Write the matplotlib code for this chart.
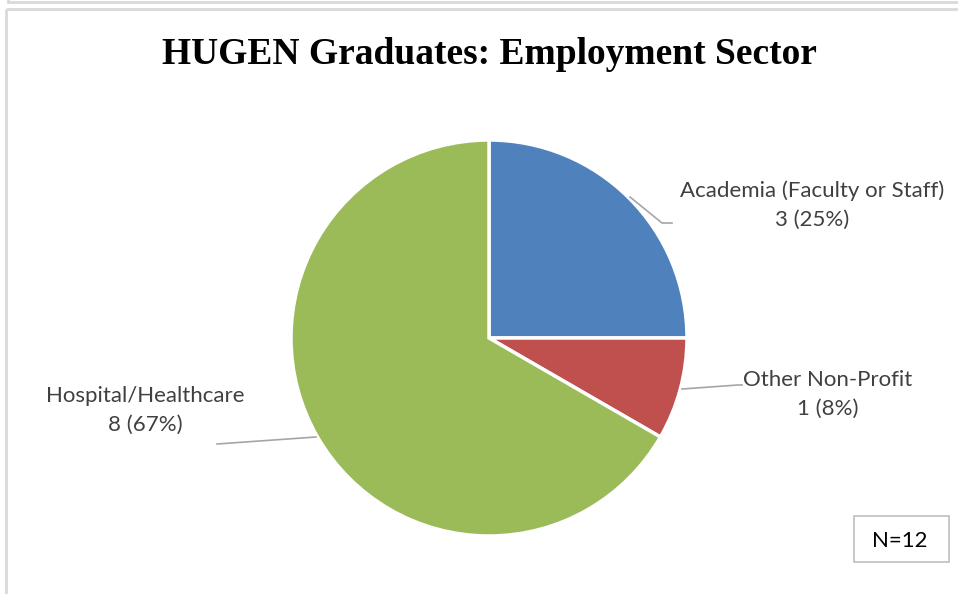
import matplotlib.pyplot as plt
from matplotlib.patches import Rectangle

# data
sectors = ["Academia (Faculty or Staff)", "Other Non-Profit", "Hospital/Healthcare"]
counts = [3, 1, 8]
colors = ["#4F81BD", "#C0504D", "#9BBB59"]
total = sum(counts)

W, H = 958, 594
fig = plt.figure(figsize=(W / 100, H / 100), dpi=100)
ax = fig.add_axes([0, 0, 1, 1])


def iy(y):
    # image y (from top) -> data y
    return H - y


# frames around the chart area
ax.plot([8.5, W], [iy(2), iy(2)], color='#D9D9D9', lw=2, solid_capstyle='butt')
ax.plot([8.5, 8.5], [iy(0), iy(2)], color='#D9D9D9', lw=2)
ax.plot([6.5, W], [iy(8.5), iy(8.5)], color='#D9D9D9', lw=2, solid_capstyle='butt')
ax.plot([6.5, 6.5], [iy(8.5), 0], color='#D9D9D9', lw=2, solid_capstyle='butt')

# pie
ax.pie(counts, colors=colors, startangle=90, counterclock=False,
       center=(489, iy(338)), radius=198, frame=True,
       wedgeprops=dict(edgecolor='white', linewidth=2.5))
ax.set_xlim(0, W)
ax.set_ylim(0, H)
ax.set_aspect('equal')
ax.axis('off')

# title
ax.text(489, iy(54), "HUGEN Graduates: Employment Sector", ha='center', va='center',
        fontsize=27, fontweight='bold', family='Liberation Serif', color='black')

# data labels with leader lines
label_pos = [(812, 205), (828, 394), (145, 410)]
leaders = [[(630, 197), (662, 223), (672, 223)],
           [(682, 389), (738, 385), (742, 385)],
           [(316, 437), (217, 444)]]
lab_font = dict(fontsize=16, family='Lato', color='#404040',
                ha='center', va='center', linespacing=1.55)
for name, n, (x, y), pts in zip(sectors, counts, label_pos, leaders):
    pct = round(100 * n / total)
    ax.text(x, iy(y), f"{name}\n{n} ({pct}%)", **lab_font)
    ax.plot([p[0] for p in pts], [iy(p[1]) for p in pts], color='#A6A6A6', lw=1.2)

# N box
ax.add_patch(Rectangle((854, iy(562)), 95, 46, facecolor='white',
                       edgecolor='#BFBFBF', lw=1.2))
ax.text(900, iy(541), f"N={total}", ha='center', va='center',
        fontsize=16, family='Lato', color='black')

fig.savefig("out.png", dpi=100)
